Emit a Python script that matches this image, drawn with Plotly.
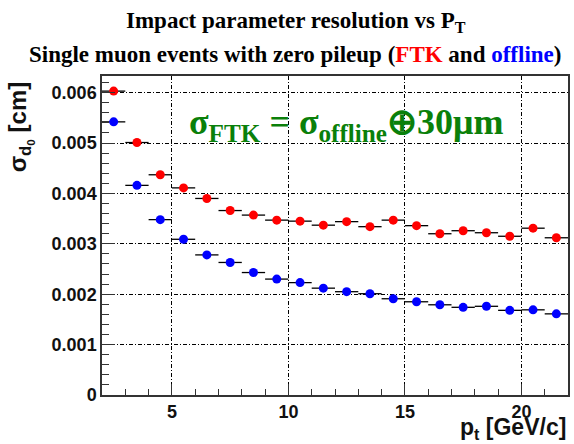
import plotly.graph_objects as go

# ---- data ----
pt_centers = [2.5, 3.5, 4.5, 5.5, 6.5, 7.5, 8.5, 9.5, 10.5, 11.5,
              12.5, 13.5, 14.5, 15.5, 16.5, 17.5, 18.5, 19.5, 20.5, 21.5]
bin_half_width = [0.5] * 20
ftk_sigma = [0.00603, 0.00501, 0.00437, 0.00411, 0.00390, 0.00366, 0.00357, 0.00347,
             0.00345, 0.00337, 0.00344, 0.00334, 0.00347, 0.00336, 0.00320, 0.00326,
             0.00322, 0.00315, 0.00331, 0.00312]
offline_sigma = [0.00542, 0.00416, 0.00348, 0.00309, 0.00278, 0.00263, 0.00243, 0.00230,
                 0.00223, 0.00212, 0.00205, 0.00201, 0.00191, 0.00185, 0.00179, 0.00174,
                 0.00176, 0.00168, 0.00169, 0.00161]
x_ticks = [5, 10, 15, 20]
y_ticks = [0, 0.001, 0.002, 0.003, 0.004, 0.005, 0.006]
y_tick_labels = ["0", "0.001", "0.002", "0.003", "0.004", "0.005", "0.006"]

W, H = 574, 444
ML, MR, MT, MB = 102, 4, 76, 49
pw, ph = W - ML - MR, H - MT - MB


def px(x):
    return (x - ML) / pw


def py(y):
    return (H - MB - y) / ph


fig = go.Figure()
for vals, col in [(ftk_sigma, "#ff0000"), (offline_sigma, "#0000ff")]:
    fig.add_trace(go.Scatter(
        x=pt_centers, y=vals, mode="markers",
        marker=dict(color=col, size=9, line=dict(width=0)),
        error_x=dict(type="data", array=bin_half_width, color="black",
                     thickness=1.3, width=0),
        showlegend=False, cliponaxis=False,
    ))

sans = "Liberation Sans"
grid = dict(showgrid=True, gridcolor="black", gridwidth=1, griddash="4px,2px,1px,2px")
fig.update_xaxes(range=[2, 22], tickmode="array", tickvals=x_ticks,
                 ticks="inside", ticklen=11, tickwidth=1, tickcolor="#333",
                 minor=dict(ticks="inside", dtick=1, ticklen=6, tickwidth=1, tickcolor="#333"),
                 showline=True, linecolor="#333", linewidth=1.5, mirror=True,
                 zeroline=False,
                 tickfont=dict(family=sans, size=18, color="#111", weight="bold"),
                 **grid)
fig.update_yaxes(range=[0, 0.00633], tickmode="array", tickvals=y_ticks,
                 ticktext=y_tick_labels,
                 ticks="inside", ticklen=13, tickwidth=1, tickcolor="#333",
                 minor=dict(ticks="inside", dtick=0.0002, ticklen=7, tickwidth=1, tickcolor="#333"),
                 showline=True, linecolor="#333", linewidth=1.5, mirror=True,
                 zeroline=False,
                 tickfont=dict(family=sans, size=18, color="#111", weight="bold"),
                 **grid)

serif = "Liberation Serif"
annots = [
    dict(text="<b>Impact parameter resolution vs P</b><sub><b>T</b></sub>",
         x=px(297), y=py(22), font=dict(family=serif, size=23, color="black", weight="bold")),
    dict(text="Single muon events with zero pileup (<span style='color:#ff0000'>FTK</span>"
              " and <span style='color:#0000ff'>offline</span>)",
         x=px(296), y=py(54), font=dict(family=serif, size=23, color="black", weight="bold")),
    dict(text="σ<sub>FTK</sub> = σ<sub>offline</sub>⊕30μm",
         x=px(347), y=py(124), font=dict(family=serif, size=36, color="#0a800a", weight="bold")),
    dict(text="σ<sub>d<sub>0</sub></sub> [cm]", textangle=-90,
         x=px(21), y=py(127), font=dict(family=sans, size=24, color="#111", weight="bold")),
    dict(text="p<sub>t</sub> [GeV/c]", xanchor="right",
         x=1.0, y=py(428), font=dict(family=sans, size=23, color="#111", weight="bold")),
]
for a in annots:
    a.setdefault("xanchor", "center")
    fig.add_annotation(xref="paper", yref="paper", showarrow=False, yanchor="middle", **a)

fig.update_layout(width=W, height=H, margin=dict(l=ML, r=MR, t=MT, b=MB),
                  paper_bgcolor="white", plot_bgcolor="white")
fig.write_html("out.html", config={"displayModeBar": False},
               post_script="document.body.style.margin='0';document.body.style.overflow='hidden';")
